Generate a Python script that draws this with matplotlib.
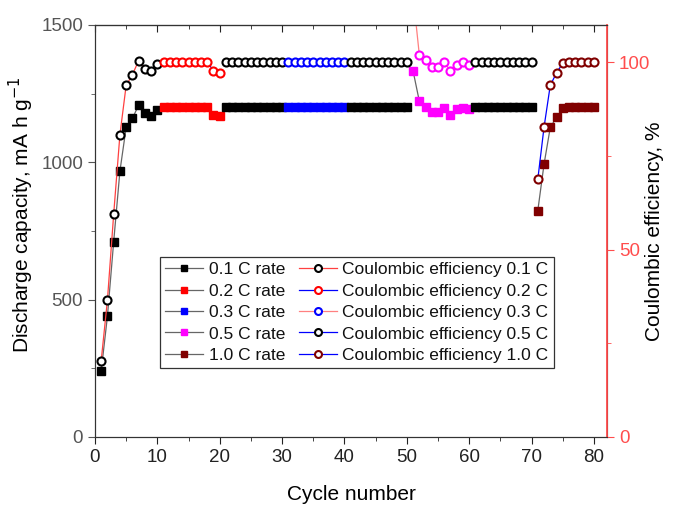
import matplotlib.pyplot as plt
from matplotlib.lines import Line2D
import numpy as np

plt.rcParams['font.family'] = ['Liberation Sans', 'DejaVu Sans']

# cycle numbers and values
cycles = np.arange(1, 81)

capacity = [241, 440, 711, 968, 1127, 1160, 1208, 1180, 1168, 1190,
            1200, 1200, 1200, 1200, 1200, 1200, 1200, 1200, 1172, 1168,
            1202, 1202, 1202, 1202, 1202, 1202, 1202, 1202, 1202, 1202,
            1202, 1202, 1202, 1202, 1202, 1202, 1202, 1202, 1202, 1202,
            1202, 1202, 1202, 1202, 1202, 1202, 1202, 1202, 1202, 1202,
            1333, 1223, 1200, 1182, 1182, 1199, 1172, 1194, 1197, 1193,
            1201, 1201, 1201, 1201, 1201, 1201, 1201, 1201, 1201, 1201,
            824, 993, 1127, 1164, 1196, 1202, 1202, 1202, 1202, 1202]

efficiency = [20.4, 36.6, 59.5, 80.7, 93.9, 96.7, 100.5, 98.2, 97.6, 99.6,
              100.1, 100.1, 100.1, 100.1, 100.1, 100.1, 100.1, 100.1, 97.8, 97.3,
              100, 100, 100, 100, 100, 100, 100, 100, 100, 100,
              100, 100, 100, 100, 100, 100, 100, 100, 100, 100,
              100, 100, 100, 100, 100, 100, 100, 100, 100, 100,
              118, 102.1, 100.7, 98.7, 98.7, 100, 97.8, 99.4, 100, 99.4,
              100, 100, 100, 100, 100, 100, 100, 100, 100, 100,
              68.8, 82.7, 93.9, 97.2, 99.8, 100, 100, 100, 100, 100]

# segments of 10 cycles: marker colour and efficiency line colour
seg_colors = ['black', 'red', 'black', 'blue', 'black', 'magenta', 'black', '#800000']
ce_line_colors = ['#ff4040', 'blue', '#ff8080', '#ff8080', '#ff8080', '#ff8080', 'blue', 'blue']

rate_labels = ['0.1 C rate', '0.2 C rate', '0.3 C rate', '0.5 C rate', '1.0 C rate']
ce_labels = ['Coulombic efficiency 0.1 C', 'Coulombic efficiency 0.2 C',
             'Coulombic efficiency 0.3 C', 'Coulombic efficiency 0.5 C',
             'Coulombic efficiency 1.0 C']
legend_sq = ['black', 'red', 'blue', 'magenta', '#800000']
legend_circ = ['black', 'red', 'blue', 'black', '#800000']
legend_circ_line = ['#ff4040', 'blue', '#ff8080', 'blue', 'blue']

red_axis = '#ff4d4d'

fig = plt.figure(figsize=(6.75, 5.09), dpi=100)
ax = fig.add_axes([0.1407, 0.1415, 0.7586, 0.8094])
ax2 = ax.twinx()

for i in range(8):
    s = slice(i * 10, i * 10 + 10)
    ax.plot(cycles[s], capacity[s], '-s', color='#666666', lw=0.9,
            mfc=seg_colors[i], mec=seg_colors[i], ms=5.6)
    ax2.plot(cycles[s], efficiency[s], '-o', color=ce_line_colors[i], lw=0.9,
             mfc='white', mec=seg_colors[i], mew=1.5, ms=5.8)

ax.set_xlim(0, 82.1)
ax.set_ylim(0, 1500)
ax2.set_ylim(0, 110)

ax.set_xticks(np.arange(0, 81, 10))
ax.set_xticks(np.arange(0, 81, 5), minor=True)
ax.set_yticks([0, 500, 1000, 1500])
ax.set_yticks([250, 750, 1250], minor=True)
ax2.set_yticks([0, 50, 100])
ax2.set_yticks([25, 75], minor=True)

ax.tick_params(axis='x', which='both', direction='out', labelsize=13.5,
               colors='#222222')
ax.tick_params(axis='x', which='major', length=5)
ax.tick_params(axis='x', which='minor', length=3)
ax.tick_params(axis='y', which='both', direction='out', labelsize=13.5,
               colors='#555555')
ax.tick_params(axis='y', which='major', length=5)
ax.tick_params(axis='y', which='minor', length=3)
ax2.tick_params(axis='y', which='both', direction='out', labelsize=13.5,
                colors=red_axis)
ax2.tick_params(axis='y', which='major', length=5)
ax2.tick_params(axis='y', which='minor', length=3)

# inward ticks on the top edge
top = ax.secondary_xaxis('top')
top.set_xticks(np.arange(0, 81, 10))
top.set_xticks(np.arange(0, 81, 5), minor=True)
top.tick_params(axis='x', which='both', direction='in', labeltop=False,
                colors='#222222')
top.tick_params(axis='x', which='major', length=5)
top.tick_params(axis='x', which='minor', length=3)

for sp in ['left', 'bottom', 'top']:
    ax.spines[sp].set_color('#333333')
    ax2.spines[sp].set_color('#333333')
ax2.spines['right'].set_color(red_axis)
ax2.spines['right'].set_linewidth(1.3)

ax.set_xlabel('Cycle number', fontsize=15, labelpad=14)
ax.set_ylabel('Discharge capacity, mA h g$^{-1}$', fontsize=15)
ax.yaxis.set_label_coords(-0.115, 0.54)
ax2.set_ylabel('Coulombic efficiency, %', fontsize=15)
ax2.yaxis.set_label_coords(1.074, 0.5)

handles = []
labels = []
for i in range(5):
    handles.append(Line2D([], [], color='#666666', lw=0.9, marker='s',
                          mfc=legend_sq[i], mec=legend_sq[i], ms=5))
    labels.append(rate_labels[i])
for i in range(5):
    handles.append(Line2D([], [], color=legend_circ_line[i], lw=0.9, marker='o',
                          mfc='white', mec=legend_circ[i], mew=1.5, ms=5))
    labels.append(ce_labels[i])

leg = ax2.legend(handles, labels, ncol=2, loc='lower left',
                 bbox_to_anchor=(0.127, 0.167), fontsize=12.5, frameon=True,
                 fancybox=False, edgecolor='#333333', framealpha=1,
                 handlelength=2.2, handletextpad=0.3, columnspacing=0.8,
                 labelspacing=0.36, borderpad=0.3, borderaxespad=0)
leg.get_frame().set_linewidth(0.9)
for t in leg.get_texts():
    t.set_color('#111111')

fig.savefig('out.png', dpi=100)
